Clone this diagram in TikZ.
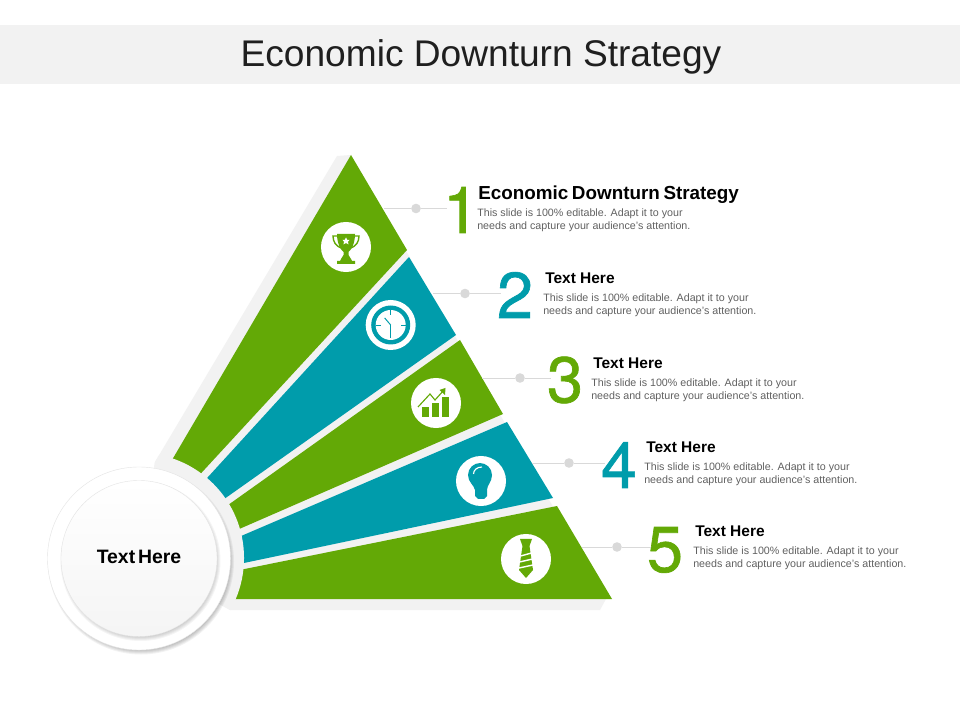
\documentclass[tikz,border=0pt]{standalone}
\usepackage{fontspec}
\setmainfont{Liberation Sans}
\newfontfamily\numberfont[RawFeature={embolden=1}]{TeX Gyre Heros}
\usetikzlibrary{positioning}
\definecolor{leaf}{HTML}{63A906}
\definecolor{sea}{HTML}{009CAB}
\definecolor{band}{HTML}{F2F2F2}
\definecolor{rim}{HTML}{D9D9D9}
\tikzset{Title style/.style={inner sep=0pt, text=black!88, font=\fontsize{26.4}{32}\selectfont}}
\tikzset{Heading style/.style={anchor=west, inner sep=0pt, font=\fontsize{11}{13}\selectfont\bfseries}}
\tikzset{Body style/.style={anchor=west, inner sep=0pt, align=left, text=black!62, font=\fontsize{7.6}{9.25}\selectfont}}
\tikzset{Number style/.style={inner sep=0pt, font=\numberfont\fontsize{46}{50}\selectfont}}
\tikzset{Dot style/.style={circle, fill=rim, inner sep=0pt, minimum size=0.24cm}}
\tikzset{Line style/.style={draw=rim, line width=0.5pt, shorten >=-3pt}}
\tikzset{Icon style/.style={circle, fill=white, inner sep=0pt, minimum size=1.25cm}}

\begin{document}
\begin{tikzpicture}[x=0.025cm, y=-0.025cm]
	\useasboundingbox (0,0) rectangle (960,720);
	\fill[white] (0,0) rectangle (960,720);
	\fill[band] (0,25) rectangle (960,84);
	\node[Title style] (title_text) at (481,57) {Economic Downturn Strategy};

	% Sombra gris
	\fill[band] (337,156) -- (351,155) -- (606,599) -- (600,610) -- (230,610) -- (139,558) -- (155,462) -- cycle;

	\fill[leaf] (351,155) -- (407,250) -- (181,495) -- (155,489) -- cycle;
	\fill[sea] (409,257) -- (456,335) -- (203,514) -- (187,500) -- cycle;
	\fill[leaf] (460,340) -- (503,414) -- (214,540) -- (207,520) -- cycle;
	\fill[sea] (507,422) -- (553,498) -- (213,569.5) -- (215.5,547) -- cycle;
	\fill[leaf] (557,506) -- (612,599) -- (200,599) -- (210,576) -- cycle;

	\begin{scope}
		\clip (337,156) -- (612,599) -- (600,610) -- (230,610) -- (139,558) -- (155,462) -- cycle;
		\node[circle, fill=band, minimum size=5.25cm, inner sep=0pt] (hub_back) at (139,558) {};
	\end{scope}

	% Sombras suaves
	\foreach \r in {1,...,6} {
		\fill[black, opacity=0.05] (141,561.5) circle ({87+\r});
	}
	\node[circle, fill=white, draw=rim!70, line width=0.3pt, minimum size=4.575cm, inner sep=0pt] (hub_outer) at (139,558.5) {};
	\foreach \r in {1,...,6} {
		\fill[black, opacity=0.04] (140.5,561) circle ({74+\r});
	}
	\node[circle, top color=white, bottom color=black!4, draw=rim!70, line width=0.3pt, minimum size=3.9cm, inner sep=0pt, text depth=3pt, font=\fontsize{13.8}{15}\selectfont\bfseries\spaceskip 2pt\relax] (hub_inner) at (139,558.5) {Text Here};

	% Numeros, puntos y lineas
	\node[Number style, text=leaf] (num_one) at (461,210) {1};
	\node[Number style, text=sea] (num_two) at (515,295) {2};
	\node[Number style, text=leaf] (num_three) at (565,380) {3};
	\node[Number style, text=sea] (num_four) at (619,465) {4};
	\node[Number style, text=leaf] (num_five) at (665,550) {5};
	\node[Dot style] (dot_one) at (416,208.5) {};
	\node[Dot style] (dot_two) at (465,293.5) {};
	\node[Dot style] (dot_three) at (520,378) {};
	\node[Dot style] (dot_four) at (569,463) {};
	\node[Dot style] (dot_five) at (617,547) {};
	\coordinate (edge_one) at (384,208.5);
	\coordinate (edge_two) at (433,293.5);
	\coordinate (edge_three) at (482,378);
	\coordinate (edge_four) at (532,463);
	\coordinate (edge_five) at (582,547);
	\draw[Line style] (edge_one) -- (dot_one) -- (num_one.west |- dot_one);
	\draw[Line style] (edge_two) -- (dot_two) -- (num_two.west |- dot_two);
	\draw[Line style] (edge_three) -- (dot_three) -- (num_three.west |- dot_three);
	\draw[Line style] (edge_four) -- (dot_four) -- (num_four.west |- dot_four);
	\draw[Line style] (edge_five) -- (dot_five) -- (num_five.west |- dot_five);

	% Textos
	\node[Heading style, font=\fontsize{13.4}{15}\selectfont\bfseries\spaceskip 2.6pt\relax] (head_one) at (478,194.5) {Economic Downturn Strategy};
	\node[Body style] (body_one) at (477,220.5) {This slide is 100\% editable.  Adapt it to your\\needs and capture your audience's attention.};
	\node[Heading style] (head_two) at (545,278) {Text Here};
	\node[Body style] (body_two) at (543,305.5) {This slide is 100\% editable.  Adapt it to your\\needs and capture your audience's attention.};
	\node[Heading style] (head_three) at (593,363) {Text Here};
	\node[Body style] (body_three) at (591,390.5) {This slide is 100\% editable.  Adapt it to your\\needs and capture your audience's attention.};
	\node[Heading style] (head_four) at (646,447) {Text Here};
	\node[Body style] (body_four) at (644,474.5) {This slide is 100\% editable.  Adapt it to your\\needs and capture your audience's attention.};
	\node[Heading style] (head_five) at (695,531) {Text Here};
	\node[Body style] (body_five) at (693,558.5) {This slide is 100\% editable.  Adapt it to your\\needs and capture your audience's attention.};

	% Iconos
	\node[Icon style] (icon_cup) at (346,247) {};
	\node[Icon style] (icon_clock) at (390.7,325) {};
	\node[Icon style] (icon_chart) at (436,403) {};
	\node[Icon style] (icon_bulb) at (481,481) {};
	\node[Icon style] (icon_tie) at (526,559) {};

	\begin{scope}[shift={(icon_cup)}]
		\fill[leaf] (-9,-13) -- (9,-13) .. controls (9,-3) and (5,3) .. (2.5,5) -- (2.5,8) -- (5,12) -- (6,14) -- (9,14) -- (9,17) -- (-9,17) -- (-9,14) -- (-6,14) -- (-5,12) -- (-2.5,8) -- (-2.5,5) .. controls (-5,3) and (-9,-3) .. (-9,-13) -- cycle;
		\draw[leaf, line width=1pt] (-9,-11) -- (-13,-11) .. controls (-13,-5) and (-10,-1) .. (-5,1);
		\draw[leaf, line width=1pt] (9,-11) -- (13,-11) .. controls (13,-5) and (10,-1) .. (5,1);
		\fill[white] (0,-9.5) -- (1.2,-7.2) -- (3.6,-7.2) -- (1.9,-5.2) -- (2.6,-2.6) -- (0,-4) -- (-2.6,-2.6) -- (-1.9,-5.2) -- (-3.6,-7.2) -- (-1.2,-7.2) -- cycle;
	\end{scope}

	\begin{scope}[shift={(icon_clock)}]
		\fill[sea] (0,0) circle (19.5);
		\fill[white] (0,0) circle (15);
		\draw[sea, line width=0.5pt] (-15,0) -- (-10,0) (15,0) -- (10,0) (0,-15) -- (0,-10);
		\draw[sea, line width=0.7pt] (-6,-7) -- (0,0);
		\draw[sea, line width=0.5pt] (0,0) -- (0,13);
	\end{scope}

	\begin{scope}[shift={(icon_chart)}]
		\fill[leaf] (-14,4) rectangle (-7,14);
		\fill[leaf] (-3.7,0) rectangle (3,14);
		\fill[leaf] (6,-6) rectangle (13,14);
		\draw[leaf, line width=0.8pt] (-18,4) -- (-6,-9) -- (-1,-3) -- (8,-13);
		\fill[leaf] (9.5,-15) -- (9,-8) -- (3.5,-13) -- cycle;
	\end{scope}

	\begin{scope}[shift={(icon_bulb)}]
		\fill[sea] (-6,9) .. controls (-7,4) and (-13,1) .. (-13,-6) .. controls (-13,-13) and (-7,-18) .. (-1,-18) .. controls (5,-18) and (11,-13) .. (11,-6) .. controls (11,1) and (6,4) .. (6,9) -- (6,15) -- (3,18) -- (-3,18) -- (-6,15) -- cycle;
		\draw[white, line width=0.8pt] (-7.5,-7) .. controls (-7.5,-11) and (-4,-14) .. (1,-14);
	\end{scope}

	\begin{scope}[shift={(icon_tie)}]
		\fill[leaf] (-6,-20) -- (6,-20) -- (3.5,-13) -- (7,11) -- (0,19) -- (-7,11) -- (-3.5,-13) -- cycle;
		\draw[white, line width=1pt] (-5.5,-3) -- (5.5,-6) (-6.5,3) -- (6.5,0) (-7,9) -- (7,6);
	\end{scope}
\end{tikzpicture}
\end{document}
